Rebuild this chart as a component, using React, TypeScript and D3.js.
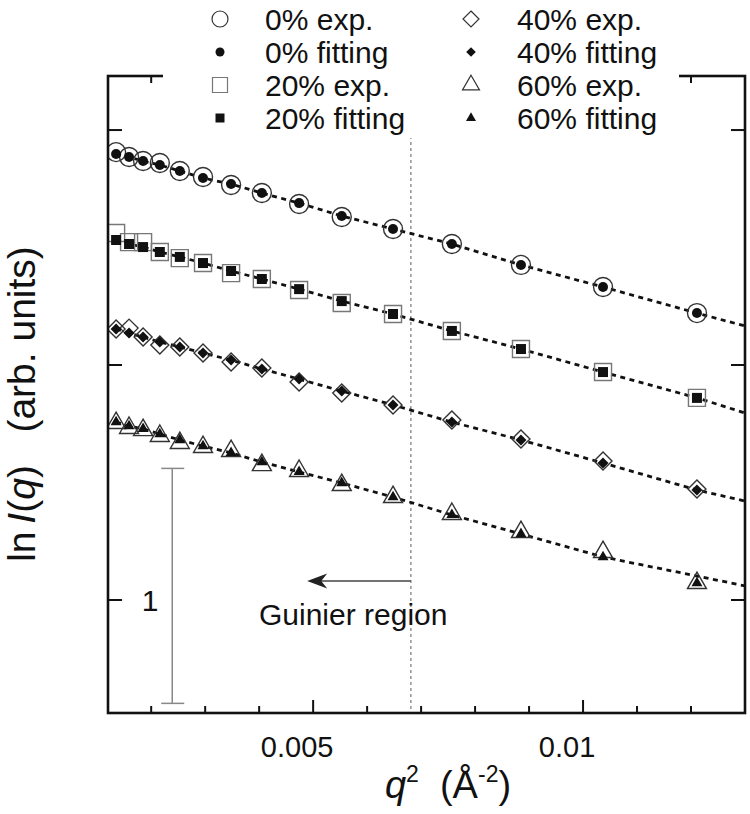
import React from "react";
import * as d3 from "d3";

// ---------- data ----------
const q2 = [
  0.00135, 0.00159, 0.00185, 0.00216, 0.00253, 0.00296, 0.00348, 0.00405,
  0.00474, 0.00553, 0.00648, 0.00757, 0.00885, 0.01037, 0.01211,
];
const lineQ2 = [...q2, 0.013];

const exp0 = [1.906, 1.885, 1.868, 1.86, 1.826, 1.8, 1.766, 1.732, 1.685, 1.63, 1.579, 1.515, 1.426, 1.332, 1.221];
const fit0 = [1.898, 1.885, 1.868, 1.851, 1.826, 1.796, 1.77, 1.732, 1.689, 1.634, 1.579, 1.515, 1.426, 1.332, 1.221];
const line0 = [1.898, 1.885, 1.868, 1.851, 1.826, 1.796, 1.77, 1.732, 1.689, 1.634, 1.579, 1.515, 1.426, 1.332, 1.221, 1.166];

const exp20 = [1.562, 1.523, 1.523, 1.481, 1.455, 1.434, 1.391, 1.366, 1.319, 1.264, 1.217, 1.145, 1.068, 0.97, 0.86];
const fit20 = [1.532, 1.515, 1.502, 1.481, 1.46, 1.434, 1.4, 1.366, 1.323, 1.272, 1.217, 1.145, 1.068, 0.97, 0.86];
const line20 = [1.532, 1.515, 1.502, 1.481, 1.46, 1.434, 1.4, 1.366, 1.323, 1.272, 1.217, 1.145, 1.068, 0.97, 0.86, 0.796];

const exp40 = [1.153, 1.157, 1.119, 1.085, 1.077, 1.051, 1.013, 0.987, 0.928, 0.881, 0.83, 0.766, 0.685, 0.591, 0.472];
const fit40 = [1.153, 1.136, 1.119, 1.098, 1.077, 1.051, 1.021, 0.983, 0.94, 0.889, 0.83, 0.757, 0.681, 0.583, 0.468];
const line40 = [1.153, 1.136, 1.119, 1.098, 1.077, 1.051, 1.021, 0.983, 0.94, 0.889, 0.83, 0.757, 0.681, 0.583, 0.468, 0.421];

const exp60 = [0.753, 0.732, 0.723, 0.698, 0.668, 0.651, 0.634, 0.574, 0.549, 0.489, 0.438, 0.366, 0.289, 0.204, 0.072];
const fit60 = [0.757, 0.74, 0.728, 0.706, 0.681, 0.655, 0.626, 0.587, 0.545, 0.498, 0.438, 0.362, 0.281, 0.183, 0.072];
const line60 = [0.757, 0.74, 0.728, 0.706, 0.681, 0.655, 0.626, 0.587, 0.545, 0.498, 0.438, 0.362, 0.281, 0.183, 0.102, 0.06];

const xMajorTicks = [0.005, 0.01];
const xTickLabels = ["0.005", "0.01"];
const xMinorTicks = [0.002, 0.003, 0.004, 0.006, 0.007, 0.008, 0.009, 0.011, 0.012];
const yTicks = [0, 1, 2];

const guinierQ2 = 0.00681;
const arrowFromQ2 = 0.00681;
const arrowToQ2 = 0.00489;
const arrowY = 0.081;
const scaleBarLow = -0.44;
const scaleBarHigh = 0.56;
const scaleBarQ2 = 0.00239;

const legendCol1 = [
  { label: "0% exp.", shape: "circle", filled: false },
  { label: "0% fitting", shape: "circle", filled: true },
  { label: "20% exp.", shape: "square", filled: false },
  { label: "20% fitting", shape: "square", filled: true },
];
const legendCol2 = [
  { label: "40% exp.", shape: "diamond", filled: false },
  { label: "40% fitting", shape: "diamond", filled: true },
  { label: "60% exp.", shape: "triangle", filled: false },
  { label: "60% fitting", shape: "triangle", filled: true },
];

const FONT = "'Liberation Sans', Arial, Helvetica, sans-serif";
const W = 750;
const H = 814;

// ---------- shapes ----------
function shapePath(shape: string, size: number): string {
  if (shape === "circle") return d3.symbol(d3.symbolCircle, Math.PI * size * size)()!;
  if (shape === "square") return d3.symbol(d3.symbolSquare, size * size)()!;
  if (shape === "diamond") return `M0,${-size}L${size},0L0,${size}L${-size},0Z`;
  const h = (size * Math.sqrt(3)) / 2;
  return `M0,${(-2 * h) / 3}L${size / 2},${h / 3}L${-size / 2},${h / 3}Z`;
}

const plotSizes: Record<string, { open: number; fill: number }> = {
  circle: { open: 9.5, fill: 5 },
  square: { open: 17, fill: 10 },
  diamond: { open: 9, fill: 5.5 },
  triangle: { open: 19, fill: 11 },
};
const legendSizes: Record<string, { open: number; fill: number }> = {
  circle: { open: 8, fill: 4.5 },
  square: { open: 15, fill: 9 },
  diamond: { open: 8, fill: 4.8 },
  triangle: { open: 17, fill: 10 },
};
const openStroke: Record<string, string> = {
  circle: "#333",
  square: "#777",
  diamond: "#333",
  triangle: "#333",
};

export default function App() {
  const L = 108, R = 745, T = 76, B = 713;
  const x = d3.scaleLinear().domain([0.0012, 0.013]).range([L, R]);
  const y = d3.scaleLinear().domain([-0.481, 2.23]).range([B, T]);
  const line = d3
    .line<[number, number]>()
    .x((d) => x(d[0]))
    .y((d) => y(d[1]));

  const series = [
    { shape: "circle", exp: exp0, fit: fit0, line: line0 },
    { shape: "square", exp: exp20, fit: fit20, line: line20 },
    { shape: "diamond", exp: exp40, fit: fit40, line: line40 },
    { shape: "triangle", exp: exp60, fit: fit60, line: line60 },
  ];

  const ax = x(arrowToQ2);
  const ay = y(arrowY);

  const legendRows = [30, 63, 96, 129];

  return (
    <svg
      width={W}
      height={H}
      style={{ position: "absolute", left: 0, top: 0, background: "#fff" }}
      fontFamily={FONT}
    >
      <defs>
        <clipPath id="plotClip">
          <rect x={L} y={T} width={R - L} height={B - T} />
        </clipPath>
      </defs>
      <rect x={0} y={0} width={W} height={H} fill="#fff" />

      {/* Guinier boundary */}
      <line
        x1={x(guinierQ2)}
        x2={x(guinierQ2)}
        y1={T}
        y2={B}
        stroke="#999"
        strokeWidth={1.6}
        strokeDasharray="3,3"
      />

      {/* scale bar */}
      <g stroke="#888" strokeWidth={1.5}>
        <line x1={x(scaleBarQ2)} x2={x(scaleBarQ2)} y1={y(scaleBarLow)} y2={y(scaleBarHigh)} />
        <line x1={x(scaleBarQ2) - 11} x2={x(scaleBarQ2) + 12} y1={y(scaleBarLow)} y2={y(scaleBarLow)} />
        <line x1={x(scaleBarQ2) - 11} x2={x(scaleBarQ2) + 12} y1={y(scaleBarHigh)} y2={y(scaleBarHigh)} />
      </g>
      <text x={150} y={611} fontSize={30} textAnchor="middle" fill="#111">
        1
      </text>

      {/* arrow */}
      <line x1={x(arrowFromQ2)} x2={ax + 10} y1={ay} y2={ay} stroke="#444" strokeWidth={1.4} />
      <path
        d={`M${ax},${ay}L${ax + 20},${ay - 7.5}L${ax + 14},${ay}L${ax + 20},${ay + 7.5}Z`}
        fill="#222"
      />
      <text x={259} y={625} fontSize={30} fill="#111">
        Guinier region
      </text>

      {/* series */}
      <g clipPath="url(#plotClip)">
        {series.map((s, i) => (
          <path
            key={"l" + i}
            d={line(lineQ2.map((q, j) => [q, s.line[j]] as [number, number]))!}
            fill="none"
            stroke="#111"
            strokeWidth={2.8}
            strokeDasharray="5,4.5"
          />
        ))}
        {series.map((s, i) =>
          s.exp.map((v, j) => (
            <path
              key={`e${i}-${j}`}
              d={shapePath(s.shape, plotSizes[s.shape].open)}
              transform={`translate(${x(q2[j])},${y(v)})`}
              fill="none"
              stroke={openStroke[s.shape]}
              strokeWidth={1.4}
            />
          ))
        )}
        {series.map((s, i) =>
          s.fit.map((v, j) => (
            <path
              key={`f${i}-${j}`}
              d={shapePath(s.shape, plotSizes[s.shape].fill)}
              transform={`translate(${x(q2[j])},${y(v)})`}
              fill="#111"
            />
          ))
        )}
      </g>

      {/* frame */}
      <rect x={L} y={T} width={R - L} height={B - T} fill="none" stroke="#111" strokeWidth={2.6} />

      {/* ticks */}
      <g stroke="#111" strokeWidth={2}>
        {xMajorTicks.map((t, i) => (
          <g key={"xm" + i}>
            <line x1={x(t)} x2={x(t)} y1={B} y2={B - 13} />
            <line x1={x(t)} x2={x(t)} y1={T} y2={T + 13} />
          </g>
        ))}
        {xMinorTicks.map((t, i) => (
          <g key={"xn" + i}>
            <line x1={x(t)} x2={x(t)} y1={B} y2={B - 7} />
            <line x1={x(t)} x2={x(t)} y1={T} y2={T + 7} />
          </g>
        ))}
        {yTicks.map((t, i) => (
          <g key={"y" + i}>
            <line x1={L} x2={L + 14} y1={y(t)} y2={y(t)} />
            <line x1={R} x2={R - 14} y1={y(t)} y2={y(t)} />
          </g>
        ))}
      </g>
      {xMajorTicks.map((t, i) => (
        <text key={"xl" + i} x={x(t) - 16} y={757} fontSize={29} textAnchor="middle" fill="#111">
          {xTickLabels[i]}
        </text>
      ))}

      {/* axis titles */}
      <text x={448} y={798} fontSize={38} textAnchor="middle" fill="#111" style={{ whiteSpace: "pre" }}>
        <tspan fontStyle="italic">q</tspan>
        <tspan fontSize={23} dy={-16}>2</tspan>
        <tspan dy={16}>{"  (Å"}</tspan>
        <tspan fontSize={23} dy={-16}>-2</tspan>
        <tspan dy={16}>)</tspan>
      </text>
      <text
        transform="translate(35,404) rotate(-90)"
        fontSize={39}
        textAnchor="middle"
        fill="#111"
        style={{ whiteSpace: "pre" }}
      >
        <tspan>{"ln\u2009"}</tspan>
        <tspan fontStyle="italic">{"I"}</tspan>
        <tspan>{"("}</tspan>
        <tspan fontStyle="italic">q</tspan>
        <tspan>{")   (arb. units)"}</tspan>
      </text>

      {/* legend */}
      <rect x={163} y={0} width={516} height={138} fill="#fff" />
      {[
        { items: legendCol1, sx: 220, tx: 265 },
        { items: legendCol2, sx: 471, tx: 517 },
      ].map((col, ci) =>
        col.items.map((it, ri) => (
          <g key={`lg${ci}-${ri}`}>
            <path
              d={shapePath(it.shape, it.filled ? legendSizes[it.shape].fill : legendSizes[it.shape].open)}
              transform={`translate(${col.sx},${legendRows[ri] - 11})`}
              fill={it.filled ? "#111" : "none"}
              stroke={it.filled ? "none" : openStroke[it.shape]}
              strokeWidth={1.2}
            />
            <text x={col.tx} y={legendRows[ri]} fontSize={30} fill="#111">
              {it.label}
            </text>
          </g>
        ))
      )}
    </svg>
  );
}
